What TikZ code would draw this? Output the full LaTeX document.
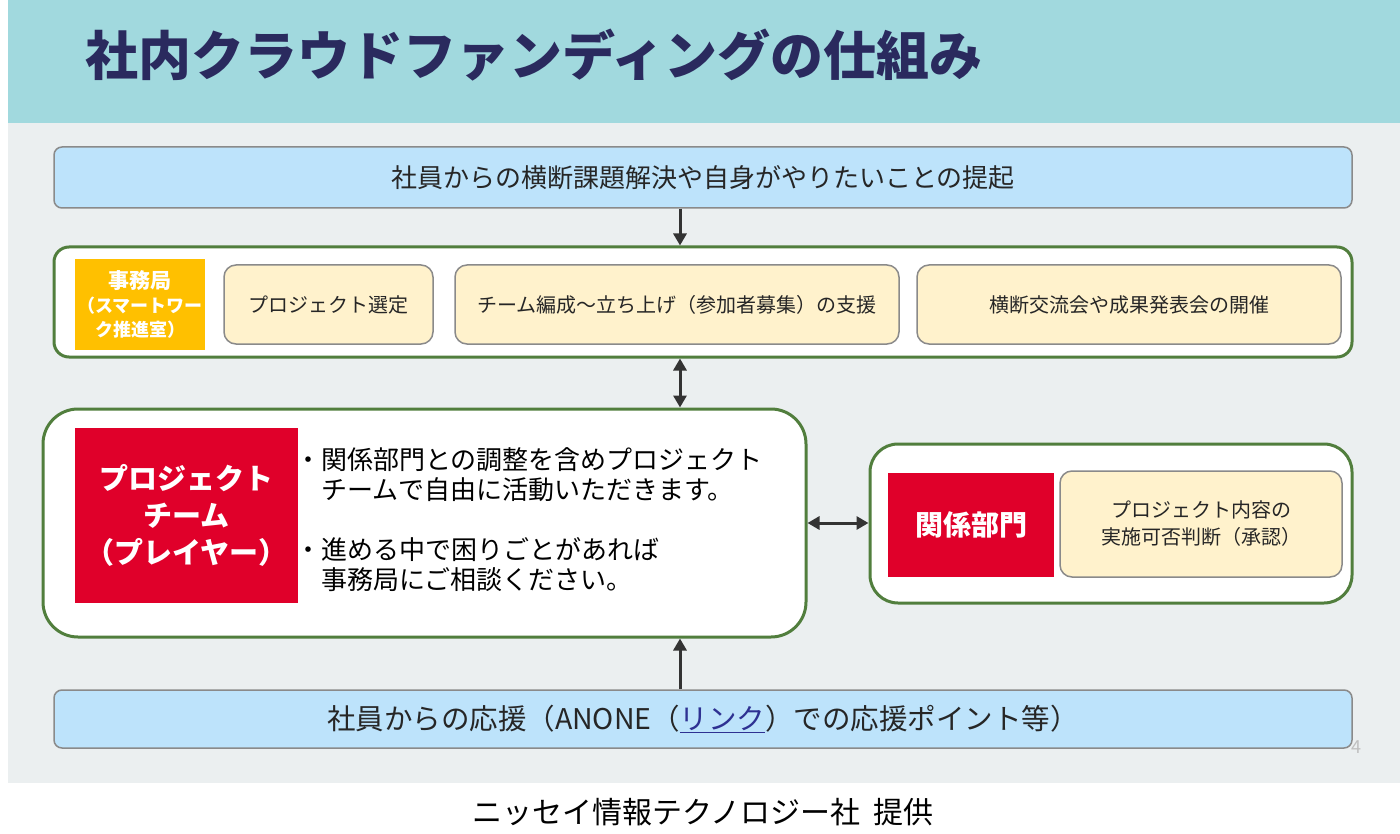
\documentclass[tikz,border=0pt]{standalone}
\usepackage{fontspec}
\setmainfont{Noto Sans CJK JP}
\usetikzlibrary{arrows.meta, positioning, calc}

\definecolor{bandteal}{HTML}{A1D9DE}
\definecolor{slidegray}{HTML}{EBEFF0}
\definecolor{titlenavy}{HTML}{2A2A5E}
\definecolor{skyblue}{HTML}{BDE3FB}
\definecolor{framegray}{HTML}{8A8A8A}
\definecolor{leafgreen}{HTML}{517E3D}
\definecolor{amber}{HTML}{FFC000}
\definecolor{signalred}{HTML}{E0002A}
\definecolor{cream}{HTML}{FFF2CC}
\definecolor{inkgray}{HTML}{262626}
\definecolor{arrowgray}{HTML}{333333}
\definecolor{linknavy}{HTML}{2E3192}
\definecolor{pagegray}{HTML}{BFBFBF}

\newcommand{\fs}[1]{\fontsize{#1}{#1}\selectfont}

\tikzstyle{bluebox}   = [rectangle, rounded corners=8pt, minimum width=1298pt, minimum height=61pt,
                          draw=framegray, line width=1.5pt, fill=skyblue, text=inkgray, font=\fs{26}]
\tikzstyle{greenbox}  = [rectangle, draw=leafgreen, line width=3pt, fill=white]
\tikzstyle{creambox}  = [rectangle, rounded corners=12pt, minimum height=79pt, align=center,
                          draw=framegray, line width=1.5pt, fill=cream, text=inkgray, font=\fs{20}]
\tikzstyle{orangebox} = [rectangle, minimum width=130pt, minimum height=91pt, align=center,
                          fill=amber, text=white, font=\bfseries\fontsize{18}{24}\selectfont]
\tikzstyle{redbox}    = [rectangle, align=center, fill=signalred, text=white]
\tikzstyle{arrow}     = [line width=3pt, draw=arrowgray, -{Triangle[length=12pt,width=13pt]}]
\tikzstyle{dblarrow}  = [line width=3pt, draw=arrowgray, {Triangle[length=12pt,width=13pt]}-{Triangle[length=12pt,width=13pt]}]

\begin{document}
\begin{tikzpicture}[x=1pt, y=-1pt, every node/.style={inner sep=0pt}]

  \useasboundingbox (0,0) rectangle (1400,834);

  % Slide background and title band
  \fill[slidegray] (8,0) rectangle (1400,783);
  \fill[bandteal] (8,0) rectangle (1400,123);

  % Title
  \node (title) [anchor=west, text=titlenavy, font=\bfseries\fs{53}] at (85,55)
        {社内クラウドファンディングの仕組み};

  % Proposals from employees
  \node (idea) [bluebox] at (703,177.5) {社員からの横断課題解決や自身がやりたいことの提起};

  % Secretariat row
  \node (office) [greenbox, rounded corners=15pt, minimum width=1298pt, minimum height=110pt] at (703,302) {};
  \node (smart)  [orangebox] at (140,304.5) {{\fs{21}事務局}\\（スマートワー\\ク推進室）};
  \node (select) [creambox, minimum width=209pt] at (328.5,304.5) {プロジェクト選定};
  \node (launch) [creambox, minimum width=444pt] at (677,304.5) {チーム編成～立ち上げ（参加者募集）の支援};
  \node (event)  [creambox, minimum width=424pt] at (1129,304.5) {横断交流会や成果発表会の開催};

  % Project team
  \node (team)   [greenbox, rounded corners=35pt, minimum width=763pt, minimum height=228pt] at (424.5,523) {};
  \node (player) [redbox, minimum width=223pt, minimum height=175pt, font=\bfseries\fontsize{29}{37}\selectfont]
                 at (186.5,515.5) {プロジェクト\\チーム\\（プレイヤー）};
  \node (notes)  [anchor=west, align=left, text=black, font=\fontsize{26}{30}\selectfont] at (295,520)
                 {・関係部門との調整を含めプロジェクト\\　チームで自由に活動いただきます。\\[30pt]・進める中で困りごとがあれば\\　事務局にご相談ください。};

  % Related departments
  \node (dept)     [greenbox, rounded corners=28pt, minimum width=482pt, minimum height=159pt] at (1111,523.5) {};
  \node (deptname) [redbox, minimum width=166pt, minimum height=104pt, font=\bfseries\fs{28}] at (971,525) {関係部門};
  \node (approve)  [creambox, minimum width=282pt, minimum height=106pt, font=\fontsize{20}{27}\selectfont]
                   at (1201,524) {プロジェクト内容の\\実施可否判断（承認）};

  % Support from employees
  \node (cheer) [bluebox, minimum height=58pt, font=\fs{28.5}] at (703,719)
        {社員からの応援（ANONE（\textcolor{linknavy}{\underline{リンク}}）での応援ポイント等）\hspace{12pt}};

  \node (page)   [text=pagegray, font=\fs{18}] at (1356,747) {4};
  \node (credit) [text=black, font=\fs{30}] at (703,812) {ニッセイ情報テクノロジー社\ \ 提供};

  % Connectors
  \coordinate (spine) at (680,0);
  \draw[arrow]    (spine |- idea.south)   -- (spine |- office.north);
  \draw[dblarrow] (spine |- office.south) -- (spine |- team.north);
  \draw[dblarrow] (team.east) -- (team.east -| dept.west);
  \draw[arrow]    (spine |- cheer.north)  -- (spine |- team.south);

\end{tikzpicture}
\end{document}
